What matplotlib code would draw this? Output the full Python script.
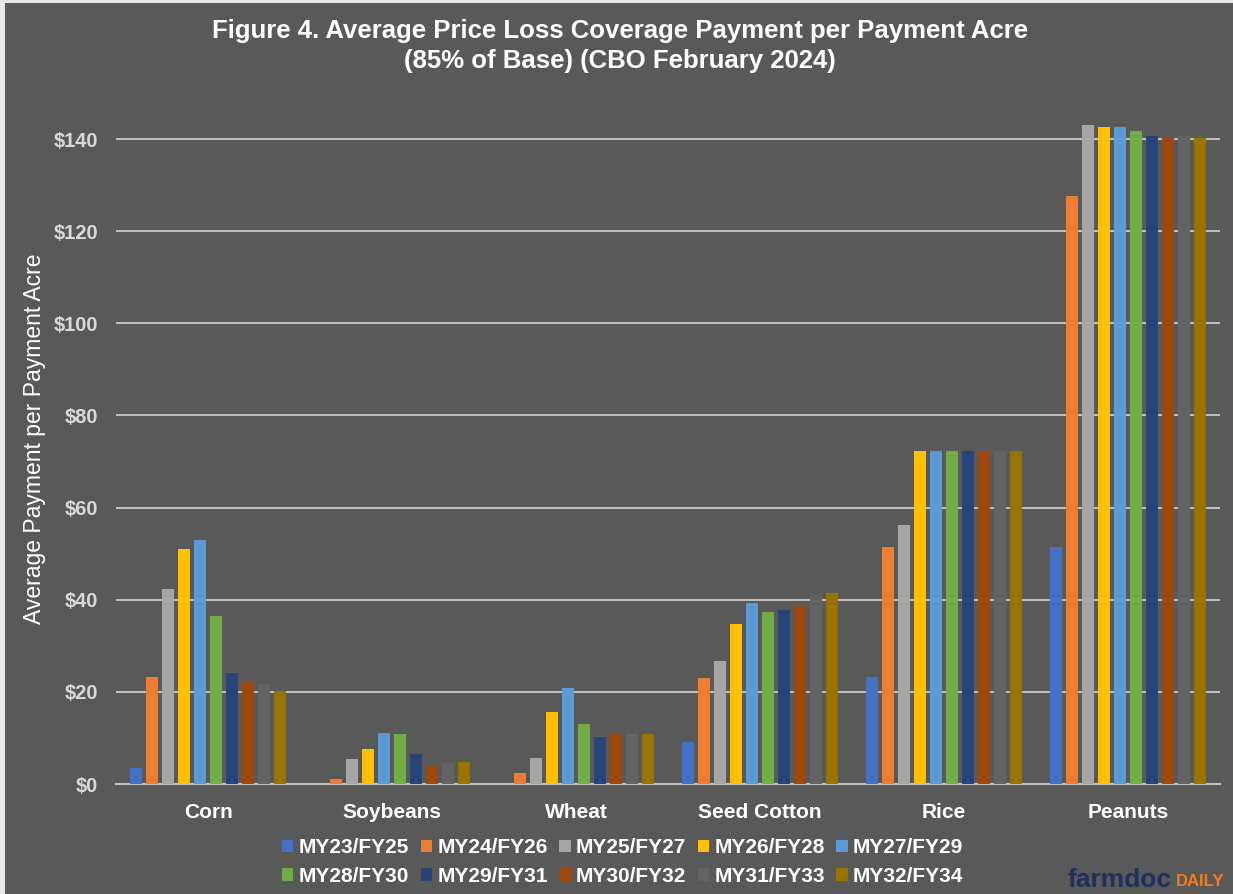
import numpy as np
import matplotlib
matplotlib.use("Agg")
import matplotlib.pyplot as plt
from matplotlib.patches import Rectangle

plt.rcParams['font.family'] = ['Liberation Sans', 'DejaVu Sans']

# data ($ per payment acre)
crops = ["Corn", "Soybeans", "Wheat", "Seed Cotton", "Rice", "Peanuts"]
years = ["MY23/FY25", "MY24/FY26", "MY25/FY27", "MY26/FY28", "MY27/FY29",
         "MY28/FY30", "MY29/FY31", "MY30/FY32", "MY31/FY33", "MY32/FY34"]
corn = [3.5, 23.2, 42.3, 51.0, 53.0, 36.5, 24.1, 22.1, 21.7, 20.3]
soybeans = [0.0, 1.2, 5.5, 7.5, 11.0, 10.8, 6.6, 4.0, 4.6, 4.7]
wheat = [0.0, 2.3, 5.6, 15.7, 20.9, 13.1, 10.3, 10.9, 10.8, 10.9]
seed_cotton = [9.1, 23.0, 26.8, 34.8, 39.3, 37.3, 37.7, 38.6, 41.0, 41.5]
rice = [23.2, 51.4, 56.2, 72.3, 72.3, 72.3, 72.3, 72.3, 72.3, 72.3]
peanuts = [51.4, 127.6, 143.1, 142.6, 142.6, 141.7, 140.7, 140.3, 140.7, 140.3]
colors = ["#4472C4", "#ED7D31", "#A5A5A5", "#FFC000", "#5B9BD5",
          "#70AD47", "#264478", "#9E480E", "#636363", "#997300"]

values = np.array([corn, soybeans, wheat, seed_cotton, rice, peanuts])

bg = "#595959"
fig = plt.figure(figsize=(12.33, 8.94), dpi=100)
fig.patch.set_facecolor("#e8e8e8")
fig.patches.append(Rectangle((5 / 1233, 0), 1, 1 - 3 / 894, transform=fig.transFigure,
                             facecolor=bg, edgecolor="none", zorder=-1))

ax = fig.add_axes([0.0941, 0.123, 0.8954, 0.773])
ax.set_facecolor(bg)

x = np.arange(len(crops))
step = 0.087
width = 0.067
bars = []
for j, yr in enumerate(years):
    b = ax.bar(x + (j - 4.5) * step, values[:, j], width=width, color=colors[j],
               label=yr, zorder=3)
    bars.append(b)

ax.set_xlim(-0.5, len(crops) - 0.5)
ax.set_ylim(0, 150)
ax.set_yticks(range(0, 141, 20))
ax.set_yticklabels([f"${v}" for v in range(0, 141, 20)])
ax.set_xticks(x)
ax.set_xticklabels(crops)
ax.yaxis.grid(True, color="#c8c8c8", linewidth=1.3, zorder=0)
ax.set_axisbelow(True)
for s in ["top", "right", "left"]:
    ax.spines[s].set_visible(False)
ax.spines["bottom"].set_color("#bfbfbf")
ax.spines["bottom"].set_linewidth(1.5)
ax.tick_params(axis="both", length=0)
ax.tick_params(axis="y", labelcolor="#d9d9d9", labelsize=14.5, pad=13)
ax.tick_params(axis="x", labelcolor="white", labelsize=15, pad=14)
for t in ax.get_yticklabels() + ax.get_xticklabels():
    t.set_fontweight("bold")
ax.set_ylabel("Average Payment per Payment Acre", color="white", fontsize=16.5)
ax.yaxis.set_label_coords(-0.063, 0.5)

fig.text(0.503, 1 - 19 / 894,
         "Figure 4. Average Price Loss Coverage Payment per Payment Acre\n(85% of Base) (CBO February 2024)",
         ha="center", va="top", color="white", fontsize=18.5, fontweight="bold", linespacing=1.32)

# legend fills row by row like the original
order = [0, 5, 1, 6, 2, 7, 3, 8, 4, 9]
leg = fig.legend([bars[i] for i in order], [years[i] for i in order],
                 loc="center", bbox_to_anchor=(0.505, 1 - 862 / 894), ncol=5, frameon=False,
                 handlelength=0.55, handleheight=0.55, handletextpad=0.25, columnspacing=0.55,
                 labelspacing=0.45, prop={"weight": "bold", "size": 15})
for t in leg.get_texts():
    t.set_color("white")

fig.text(1068 / 1233, 1 - 880 / 894, "farmdoc", color="#1f2f5e", fontsize=19,
         fontweight="bold", ha="left", va="center")
fig.text(1176 / 1233, 1 - 882 / 894, "DAILY", color="#f47b20", fontsize=12,
         fontweight="bold", ha="left", va="center")

fig.savefig("out.png", dpi=100, facecolor=fig.get_facecolor())
